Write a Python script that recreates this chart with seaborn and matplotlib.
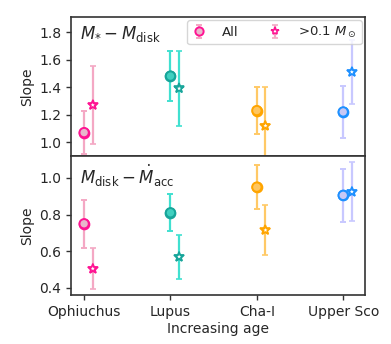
import numpy as np
import pandas as pd
import matplotlib
matplotlib.use("Agg")
import matplotlib.pyplot as plt
import seaborn as sns

regions = ["Ophiuchus", "Lupus", "Cha-I", "Upper Sco"]

# M_* - M_disk slopes
mstar_all = [1.07, 1.48, 1.23, 1.22]
mstar_all_err = [0.155, 0.18, 0.17, 0.19]
mstar_big = [1.27, 1.39, 1.12, 1.51]
mstar_big_err = [0.285, 0.27, 0.28, 0.23]

# M_disk - Mdot_acc slopes
macc_all = [0.75, 0.81, 0.95, 0.905]
macc_all_err = [0.13, 0.10, 0.12, 0.145]
macc_big = [0.505, 0.57, 0.715, 0.925]
macc_big_err = [0.11, 0.12, 0.135, 0.16]

edge_colors = ["deeppink", "#17a59a", "orange", "dodgerblue"]
face_colors = ["#e8b8cc", "#40d0c0", "#ffc660", "#c8c8f5"]
bar_colors = ["#f4a8c4", "#40e0d0", "#ffc966", "#c8c8ff"]

sns.set_theme(style="ticks")
plt.rcParams["font.family"] = ["DejaVu Sans"]
plt.rcParams["mathtext.fontset"] = "dejavusans"

fig, (ax1, ax2) = plt.subplots(2, 1, sharex=True, figsize=(3.91, 3.44), dpi=100)
fig.subplots_adjust(left=0.182, right=0.933, top=0.951, bottom=0.142, hspace=0)

offset = 0.1
xpos = np.arange(len(regions))


def draw_panel(ax, all_vals, all_err, big_vals, big_err):
    df_all = pd.DataFrame({"x": xpos, "y": all_vals, "region": regions})
    df_big = pd.DataFrame({"x": xpos + offset, "y": big_vals, "region": regions})
    handles = []
    for i in range(len(regions)):
        h1 = ax.errorbar(xpos[i], all_vals[i], yerr=all_err[i], fmt="o",
                         color=bar_colors[i], ecolor=bar_colors[i], elinewidth=1.6,
                         capsize=2.5, capthick=1.2, markersize=7,
                         markerfacecolor=face_colors[i], markeredgecolor=edge_colors[i],
                         markeredgewidth=1.4, zorder=2)
        h2 = ax.errorbar(xpos[i] + offset, big_vals[i], yerr=big_err[i], fmt="*",
                         color=bar_colors[i], ecolor=bar_colors[i], elinewidth=1.6,
                         capsize=2.5, capthick=1.2, markersize=7,
                         markerfacecolor="white", markeredgecolor=edge_colors[i],
                         markeredgewidth=1.2, zorder=2)
        if i == 0:
            handles = [h1, h2]
    # overlay markers through seaborn so they sit above the bars
    sns.scatterplot(data=df_all, x="x", y="y", hue="region", palette=face_colors,
                    edgecolor=edge_colors, linewidth=1.4, s=45, marker="o",
                    legend=False, ax=ax, zorder=3)
    sns.scatterplot(data=df_big, x="x", y="y", hue="region",
                    palette=["white"] * 4, edgecolor=edge_colors, linewidth=1.1,
                    s=45, marker="*", legend=False, ax=ax, zorder=3)
    ax.set_xlabel("")
    return handles


handles = draw_panel(ax1, mstar_all, mstar_all_err, mstar_big, mstar_big_err)
draw_panel(ax2, macc_all, macc_all_err, macc_big, macc_big_err)

ax1.set_ylim(0.9, 1.91)
ax1.set_yticks([1.0, 1.2, 1.4, 1.6, 1.8])
ax2.set_ylim(0.36, 1.12)
ax2.set_yticks([0.4, 0.6, 0.8, 1.0])
ax2.set_xlim(-0.15, 3.25)
ax2.set_xticks(xpos)
ax2.set_xticklabels(regions)
ax2.set_xlabel("Increasing age", fontsize=10, labelpad=2)

for ax in (ax1, ax2):
    ax.set_ylabel("Slope", fontsize=10)
    ax.tick_params(labelsize=10, length=3.5, width=1, color="#333333")
    for sp in ax.spines.values():
        sp.set_visible(True)
        sp.set_color("#333333")
        sp.set_linewidth(1.2)

ax1.text(0.03, 0.95, r"$M_{*} - M_{\rm disk}$", transform=ax1.transAxes,
         fontsize=12, va="top", ha="left")
ax2.text(0.03, 0.95, r"$M_{\rm disk} - \dot{M}_{\rm acc}$", transform=ax2.transAxes,
         fontsize=12, va="top", ha="left")

leg = ax1.legend(handles=handles, labels=["All", r">0.1 $M_\odot$"], ncol=2,
                 loc="upper right", fontsize=9.5, frameon=True, handlelength=1.0,
                 columnspacing=2.2, borderpad=0.35, handletextpad=1.3,
                 borderaxespad=0.25, edgecolor="#cccccc", markerscale=0.85)
leg.set_zorder(5)

fig.savefig("out.png", dpi=100)
